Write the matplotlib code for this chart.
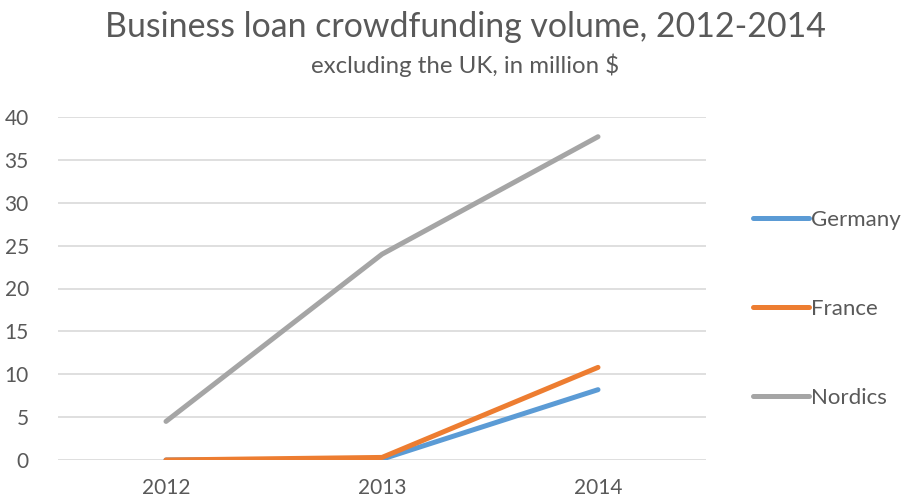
import matplotlib
matplotlib.use("Agg")
import matplotlib.pyplot as plt

years = ["2012", "2013", "2014"]
germany = [0.0, 0.1, 8.2]
france = [0.0, 0.3, 10.8]
nordics = [4.5, 24.0, 37.7]
series_names = ["Germany", "France", "Nordics"]
colors = ["#5B9BD5", "#ED7D31", "#A5A5A5"]
yticks = [0, 5, 10, 15, 20, 25, 30, 35, 40]

plt.rcParams['font.family'] = ['Lato', 'DejaVu Sans']
W, H = 903, 501
fig = plt.figure(figsize=(W / 100, H / 100), dpi=100)
ax = fig.add_axes([58 / W, (H - 460) / H, (706 - 58) / W, (460 - 117) / H])

x = list(range(len(years)))
for vals, name, c in zip([germany, france, nordics], series_names, colors):
    ax.plot(x, vals, color=c, lw=3.6, solid_capstyle='round', label=name)

ax.set_xlim(-0.5, len(years) - 0.5)
ax.set_ylim(0, 40)
ax.set_yticks(yticks)
ax.set_xticks(x)
ax.set_xticklabels(years)
ax.grid(axis='y', color='#D9D9D9', lw=1.2)
ax.set_axisbelow(True)
for s in ax.spines.values():
    s.set_visible(False)
ax.tick_params(axis='both', length=0, labelsize=15, colors='#595959')
ax.tick_params(axis='y', pad=21)
ax.tick_params(axis='x', pad=13)

fig.text(465 / W, 1 - 27 / H, "Business loan crowdfunding volume, 2012-2014",
         ha='center', va='center', fontsize=24.4, color='#595959')
fig.text(465 / W, 1 - 65 / H, "excluding the UK, in million $",
         ha='center', va='center', fontsize=17.3, color='#595959')

leg = fig.legend(loc='center left', bbox_to_anchor=(733 / W, 1 - 309 / H),
                 frameon=False, fontsize=16, labelcolor='#595959',
                 handlelength=2.5, handletextpad=0.12, labelspacing=3.1)

fig.savefig("out.png", dpi=100)
